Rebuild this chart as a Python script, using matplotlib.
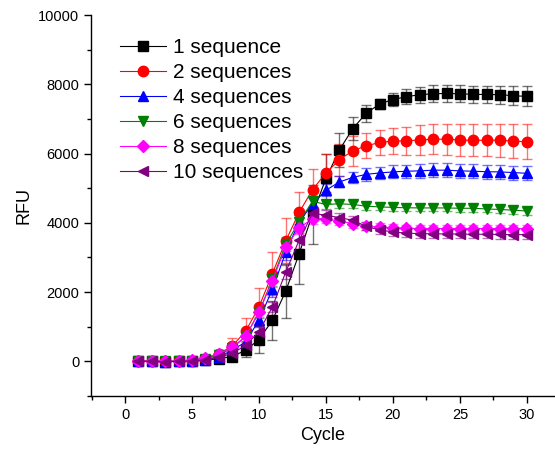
import matplotlib

matplotlib.use("Agg")
import matplotlib.pyplot as plt
import numpy as np
from matplotlib.ticker import MultipleLocator

plt.rcParams["font.family"] = ["Liberation Sans", "DejaVu Sans"]

cycles = np.arange(1, 31)

labels = ["1 sequence", "2 sequences", "4 sequences", "6 sequences", "8 sequences", "10 sequences"]

rfu_1 = [0, 0, -10, 0, 0, 30, 80, 140, 320, 630, 1185, 2030, 3110, 4250, 5280,
         6100, 6720, 7160, 7430, 7560, 7640, 7700, 7725, 7735, 7725, 7710, 7705, 7700, 7670, 7650]
err_1 = [20, 20, 20, 20, 20, 30, 50, 80, 180, 400, 560, 770, 870, 850, 700,
         480, 330, 240, 150, 200, 220, 230, 240, 240, 240, 250, 250, 260, 270, 290]

rfu_2 = [10, 10, 0, 10, 20, 80, 220, 440, 870, 1570, 2535, 3480, 4300, 4960, 5440,
         5820, 6080, 6220, 6320, 6360, 6370, 6390, 6415, 6415, 6390, 6380, 6385, 6385, 6360, 6340]
err_2 = [20, 20, 20, 20, 20, 50, 120, 220, 380, 550, 625, 650, 580, 580, 540,
         470, 440, 360, 370, 375, 400, 420, 440, 445, 450, 460, 470, 480, 490, 500]

rfu_4 = [0, 0, -10, 0, 10, 50, 130, 320, 560, 1190, 2080, 3150, 4030, 4540, 4940,
         5180, 5310, 5400, 5440, 5470, 5490, 5500, 5520, 5520, 5500, 5490, 5475, 5470, 5450, 5430]
err_4 = [20, 20, 20, 20, 25, 30, 50, 80, 120, 180, 220, 230, 200, 180, 170,
         160, 170, 180, 180, 190, 190, 200, 200, 200, 200, 200, 200, 200, 200, 200]

rfu_6 = [0, 0, 0, 10, 20, 70, 180, 380, 720, 1420, 2370, 3380, 4030, 4620, 4530,
         4550, 4530, 4480, 4460, 4445, 4435, 4430, 4430, 4430, 4420, 4420, 4400, 4385, 4365, 4340]
err_6 = [20, 20, 20, 20, 20, 30, 50, 80, 120, 160, 200, 200, 200, 150, 120,
         110, 100, 100, 100, 100, 100, 100, 100, 100, 100, 100, 100, 100, 100, 100]

rfu_8 = [10, 0, 0, 10, 30, 110, 220, 400, 720, 1420, 2330, 3300, 3850, 4120, 4120,
         4050, 3980, 3900, 3880, 3855, 3840, 3835, 3835, 3835, 3835, 3835, 3835, 3835, 3835, 3830]
err_8 = [20, 20, 20, 20, 20, 40, 60, 90, 120, 150, 180, 200, 180, 150, 130,
         120, 120, 110, 110, 110, 110, 110, 110, 110, 110, 110, 110, 110, 110, 110]

rfu_10 = [0, 0, -10, 0, 10, 40, 120, 230, 460, 860, 1570, 2580, 3500, 4270, 4220,
          4150, 4075, 3900, 3790, 3740, 3700, 3690, 3680, 3680, 3675, 3670, 3670, 3665, 3660, 3660]
err_10 = [20, 20, 20, 20, 20, 30, 50, 80, 100, 130, 150, 200, 250, 200, 150,
          130, 120, 120, 120, 120, 120, 120, 120, 120, 120, 120, 120, 120, 120, 120]

series = [rfu_1, rfu_2, rfu_4, rfu_6, rfu_8, rfu_10]
errors = [err_1, err_2, err_4, err_6, err_8, err_10]
colors = ["#000000", "#ff0000", "#0000ff", "#008000", "#ff00ff", "#800080"]
markers = ["s", "o", "^", "v", "D", "<"]
sizes = [6.5, 7.5, 7.5, 7.5, 6, 7.5]

fig = plt.figure(figsize=(5.55, 4.55), dpi=100)
ax = fig.add_axes([0.164, 0.1297, 0.836, 0.8373])

handles = []
for values, err, color, marker, size, label in zip(series, errors, colors, markers, sizes, labels):
    container = ax.errorbar(
        cycles, values, yerr=err,
        color=color, marker=marker, markersize=size, linewidth=0.8,
        ecolor=matplotlib.colors.to_rgba(color, 0.55), elinewidth=1.0,
        capsize=3.5, capthick=1.0, label=label,
    )
    handles.append(container.lines[0])

ax.legend(handles=handles, labels=labels, loc="upper left", bbox_to_anchor=(0.045, 0.962),
          frameon=False, fontsize=15, handlelength=2.2, handletextpad=0.33,
          labelspacing=0.29, borderaxespad=0)

ax.set_xlim(-2.54, 32.1)
ax.set_ylim(-1000, 10000)
ax.xaxis.set_major_locator(MultipleLocator(5))
ax.xaxis.set_minor_locator(MultipleLocator(2.5))
ax.yaxis.set_major_locator(MultipleLocator(2000))
ax.yaxis.set_minor_locator(MultipleLocator(1000))
ax.tick_params(which="both", direction="out", labelsize=10.5, width=1)
ax.tick_params(which="major", length=5)
ax.tick_params(which="minor", length=3)
for side in ("top", "right"):
    ax.spines[side].set_visible(False)
for side in ("left", "bottom"):
    ax.spines[side].set_linewidth(1.0)

ax.set_xlabel("Cycle", fontsize=13)
ax.set_ylabel("RFU", fontsize=13)

fig.savefig("out.png", dpi=100)
